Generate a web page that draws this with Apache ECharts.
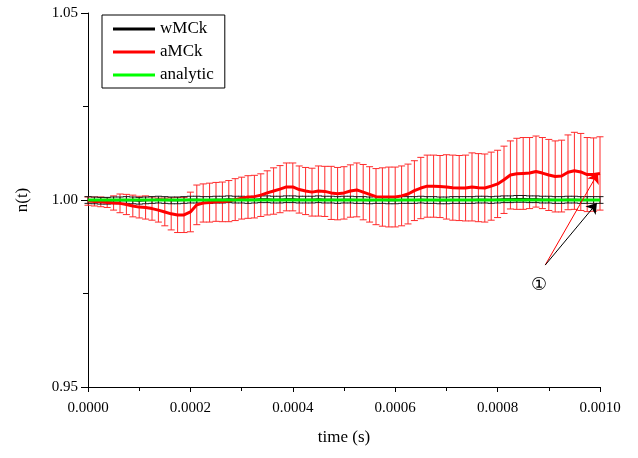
<!DOCTYPE html>
<html>
<head>
<meta charset="utf-8">
<script src="https://cdn.jsdelivr.net/npm/echarts@6/dist/echarts.min.js"></script>
<style>
  html, body { margin: 0; padding: 0; background: #fff; }
  #main { width: 638px; height: 458px; }
</style>
</head>
<body>
<div id="main"></div>
<script>
// sample grid of the simulation output (s)
var tStep = 0.0000125;
var nPts = 81;

// wMCk mean values and error
var wMean = [1.0000,0.9999,0.9998,0.9998,0.9999,0.9999,1.0000,0.9999,0.9998,0.9999,
  1.0000,1.0001,1.0000,0.9999,0.9999,1.0000,1.0001,1.0001,1.0000,1.0000,
  1.0001,1.0001,1.0002,1.0001,1.0001,1.0000,1.0001,1.0002,1.0002,1.0001,
  1.0001,1.0002,1.0002,1.0001,1.0001,1.0001,1.0002,1.0001,1.0001,1.0000,
  1.0001,1.0001,1.0000,1.0000,0.9999,1.0000,1.0000,0.9999,0.9999,1.0000,
  1.0000,1.0000,1.0001,1.0000,1.0000,0.9999,0.9999,1.0000,1.0000,1.0000,
  1.0000,1.0001,1.0001,1.0000,1.0001,1.0002,1.0002,1.0003,1.0003,1.0002,
  1.0002,1.0001,1.0001,1.0000,1.0000,1.0001,1.0001,1.0000,1.0000,1.0000,
  1.0000];
var wErr = 0.0009;

// aMCk mean values and error
var aMean = [0.9997,0.9996,0.9995,0.9993,0.9992,0.9991,0.9988,0.9984,0.9981,0.9980,
  0.9977,0.9973,0.9968,0.9963,0.9960,0.9960,0.9968,0.9987,0.9992,0.9993,
  0.9995,0.9995,0.9997,1.0001,1.0005,1.0008,1.0009,1.0013,1.0019,1.0024,
  1.0029,1.0035,1.0035,1.0028,1.0024,1.0021,1.0024,1.0023,1.0019,1.0017,
  1.0019,1.0024,1.0027,1.0021,1.0015,1.0009,1.0008,1.0008,1.0008,1.0011,
  1.0016,1.0025,1.0032,1.0037,1.0037,1.0036,1.0035,1.0033,1.0032,1.0032,
  1.0035,1.0033,1.0032,1.0037,1.0043,1.0054,1.0067,1.0070,1.0071,1.0072,
  1.0076,1.0072,1.0067,1.0063,1.0064,1.0074,1.0078,1.0075,1.0068,1.0068,
  1.0071];
var aErr = [0.0011,0.0012,0.0013,0.0013,0.0019,0.0025,0.0027,0.0029,0.0029,0.0031,
  0.0031,0.0032,0.0037,0.0043,0.0047,0.0047,0.0053,0.0053,0.0051,0.0052,
  0.0052,0.0053,0.0055,0.0056,0.0056,0.0057,0.0057,0.0057,0.0059,0.0062,
  0.0063,0.0064,0.0064,0.0063,0.0063,0.0064,0.0067,0.0067,0.0071,0.0070,
  0.0070,0.0070,0.0072,0.0074,0.0074,0.0075,0.0078,0.0080,0.0080,0.0080,
  0.0080,0.0080,0.0082,0.0083,0.0083,0.0083,0.0086,0.0087,0.0087,0.0088,
  0.0091,0.0091,0.0091,0.0091,0.0090,0.0090,0.0091,0.0095,0.0096,0.0095,
  0.0095,0.0095,0.0095,0.0095,0.0096,0.0100,0.0103,0.0103,0.0099,0.0098,
  0.0098];

// analytic solution
var anT = [0, 0.001];
var anN = [1.0, 1.0];

// annotation "①" and arrow ends
var notePos = [0.000881, 0.9773];
var arrowStart = [0.000893, 0.9826];
var arrowRedEnd = [0.000996, 1.0072];
var arrowBlackEnd = [0.000994, 0.9992];

var font = 'Liberation Serif, Times New Roman, serif';

var times = [];
for (var i = 0; i < nPts; i++) times.push(i * tStep);

var wLine = [], wBars = [], aLine = [], aBars = [], anLine = [];
for (var i = 0; i < nPts; i++) {
  wLine.push([times[i], wMean[i]]);
  wBars.push([times[i], wMean[i] - wErr, wMean[i] + wErr]);
  aLine.push([times[i], aMean[i]]);
  aBars.push([times[i], aMean[i] - aErr[i], aMean[i] + aErr[i]]);
}
for (var i = 0; i < anT.length; i++) anLine.push([anT[i], anN[i]]);

function errBar(params, api) {
  var t = api.value(0);
  var p1 = api.coord([t, api.value(2)]);
  var p2 = api.coord([t, api.value(1)]);
  var w = 3.5;
  var st = { stroke: api.visual('color'), lineWidth: 1 };
  return {
    type: 'group',
    children: [
      { type: 'line', shape: { x1: p1[0], y1: p1[1], x2: p2[0], y2: p2[1] }, style: st },
      { type: 'line', shape: { x1: p1[0] - w, y1: p1[1], x2: p1[0] + w, y2: p1[1] }, style: st },
      { type: 'line', shape: { x1: p2[0] - w, y1: p2[1], x2: p2[0] + w, y2: p2[1] }, style: st }
    ]
  };
}

function arrowPair(from, to, col) {
  return [
    { coord: from, symbol: 'none', lineStyle: { color: col, width: 1, type: 'solid' }, itemStyle: { color: col } },
    { coord: to, symbol: 'arrow', symbolSize: 10, itemStyle: { color: col } }
  ];
}

var myChart = echarts.init(document.getElementById('main'));
var option = {
  animation: false,
  textStyle: { fontFamily: font, color: '#000' },
  grid: { left: 88, right: 38, top: 13, bottom: 71 },
  legend: {
    data: ['wMCk', 'aMCk', 'analytic'],
    orient: 'vertical',
    left: 102,
    top: 15,
    padding: [4, 11, 3, 11],
    itemGap: 3,
    itemWidth: 42,
    itemHeight: 3,
    icon: 'rect',
    borderColor: '#000',
    borderWidth: 1,
    textStyle: { fontFamily: font, fontSize: 17, color: '#000', lineHeight: 20 }
  },
  xAxis: {
    type: 'value',
    min: 0,
    max: 0.001,
    interval: 0.0002,
    name: 'time (s)',
    nameLocation: 'middle',
    nameGap: 42,
    nameTextStyle: { fontFamily: font, fontSize: 17, color: '#000' },
    axisLine: { show: true, onZero: false, lineStyle: { color: '#000', width: 1 } },
    axisTick: { show: true, length: 5, lineStyle: { color: '#000' } },
    minorTick: { show: true, splitNumber: 2, length: 4, lineStyle: { color: '#000' } },
    splitLine: { show: false },
    axisLabel: {
      fontFamily: font, fontSize: 15, color: '#000', margin: 14,
      formatter: function (v) { return v.toFixed(4); }
    }
  },
  yAxis: {
    type: 'value',
    min: 0.95,
    max: 1.05,
    interval: 0.05,
    name: 'n(t)',
    nameLocation: 'middle',
    nameGap: 57,
    nameTextStyle: { fontFamily: font, fontSize: 17, color: '#000' },
    axisLine: { show: true, onZero: false, lineStyle: { color: '#000', width: 1 } },
    axisTick: { show: true, length: 7, lineStyle: { color: '#000' } },
    minorTick: { show: true, splitNumber: 2, length: 5, lineStyle: { color: '#000' } },
    splitLine: { show: false },
    axisLabel: {
      fontFamily: font, fontSize: 15, color: '#000', margin: 10,
      formatter: function (v) { return v.toFixed(2); }
    }
  },
  series: [
    {
      name: 'aMCk err',
      type: 'custom',
      renderItem: errBar,
      itemStyle: { color: '#ff2a2a' },
      encode: { x: 0, y: [1, 2] },
      data: aBars,
      z: 1
    },
    {
      name: 'wMCk err',
      type: 'custom',
      renderItem: errBar,
      itemStyle: { color: '#1a1a1a' },
      encode: { x: 0, y: [1, 2] },
      data: wBars,
      z: 2
    },
    {
      name: 'wMCk',
      type: 'line',
      data: wLine,
      showSymbol: false,
      color: '#000',
      lineStyle: { color: '#000', width: 2 },
      z: 3
    },
    {
      name: 'aMCk',
      type: 'line',
      data: aLine,
      showSymbol: false,
      clip: false,
      color: '#ff0000',
      lineStyle: { color: '#ff0000', width: 3 },
      z: 4,
      markPoint: {
        silent: true,
        data: [{
          coord: notePos,
          symbol: 'circle',
          symbolSize: 1,
          itemStyle: { color: 'rgba(0,0,0,0)' },
          label: {
            show: true, position: 'inside', formatter: '\u2460',
            fontFamily: 'Liberation Serif, DejaVu Sans, Noto Sans CJK SC', fontSize: 18, color: '#000'
          }
        }]
      }
    },
    {
      name: 'analytic',
      type: 'line',
      data: anLine,
      showSymbol: false,
      clip: false,
      color: '#00ff00',
      lineStyle: { color: '#00ee00', width: 3 },
      z: 5,
      markLine: {
        silent: true,
        z: 10,
        label: { show: false },
        emphasis: { disabled: true },
        data: [
          arrowPair(arrowStart, arrowRedEnd, '#ff0000'),
          arrowPair(arrowStart, arrowBlackEnd, '#000000')
        ]
      }
    }
  ]
};
option && myChart.setOption(option);
</script>
</body>
</html>
